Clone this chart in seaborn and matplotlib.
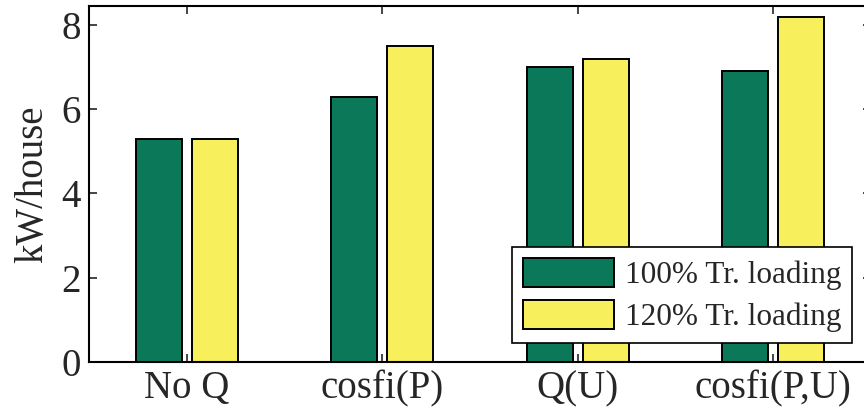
import numpy as np
import pandas as pd
import seaborn as sns
from matplotlib import pyplot as plt

# data
categories = ['No Q', 'cosfi(P)', 'Q(U)', 'cosfi(P,U)']
load_100 = [5.3, 6.3, 7.0, 6.9]
load_120 = [5.3, 7.5, 7.2, 8.2]
series = ['100% Tr. loading', '120% Tr. loading']
colors = ['#0b785a', '#f8ef5c']

df = pd.DataFrame({
    'case': categories * 2,
    'value': load_100 + load_120,
    'series': [series[0]] * 4 + [series[1]] * 4,
})

sns.set_style('ticks')
plt.rcParams['font.family'] = ['Liberation Serif', 'DejaVu Serif']
plt.rc('xtick', direction='in', top=True)
plt.rc('ytick', direction='in', right=True)
plt.rc('axes', linewidth=1.4, edgecolor='black')

fig = plt.figure(figsize=(8.64, 4.12), dpi=100)
ax = fig.add_axes([89/864, 1 - 362/412, (871 - 89)/864, (362 - 6)/412])

sns.barplot(data=df, x='case', y='value', hue='series', palette=colors,
            width=0.572, gap=0.18, edgecolor='black', linewidth=1.4,
            saturation=1, ax=ax)

ax.set_xlim(-0.5, 3.5)
ax.set_ylim(0, 8.45)
ax.set_yticks([0, 2, 4, 6, 8])
ax.set_xlabel('')
ax.set_ylabel('kW/house', fontsize=28, labelpad=7)
ax.tick_params(axis='both', labelsize=28, length=6, width=1.2, pad=6)
for s in ax.spines.values():
    s.set_visible(True)
    s.set_linewidth(1.5)

leg = ax.legend(loc='lower right', fontsize=22.5, frameon=True, fancybox=False,
                edgecolor='black', framealpha=1, handlelength=2.9,
                handleheight=1.03, borderaxespad=0.6, borderpad=0.35,
                labelspacing=0.32, handletextpad=0.35)
leg.get_frame().set_linewidth(1.2)

fig.savefig('out.png', dpi=100)
